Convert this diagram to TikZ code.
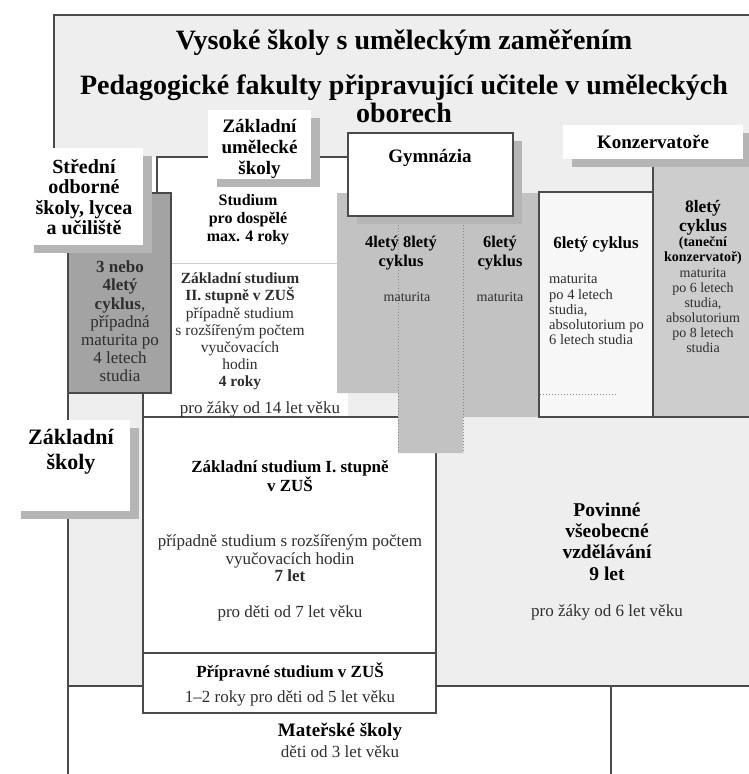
\documentclass[tikz,border=0pt]{standalone}
\usepackage{fontspec}
\setmainfont{Liberation Serif}
\usetikzlibrary{shadows}

\definecolor{framecol}{HTML}{EEEEEE}
\definecolor{darkcol}{HTML}{A3A3A3}
\definecolor{gymcol}{HTML}{C2C2C2}
\definecolor{konzcol}{HTML}{CDCDCD}
\definecolor{palecol}{HTML}{F7F7F7}
\definecolor{shadowcol}{HTML}{B5B5B5}
\definecolor{linecol}{HTML}{4A4A4A}
\definecolor{dotcol}{HTML}{8A8A8A}
\definecolor{textcol}{HTML}{2E2E2E}

\begin{document}
\begin{tikzpicture}[x=1pt, y=-1pt,
    edge/.style={draw=linecol, line width=1.1pt},
    dots/.style={draw=dotcol, line width=1pt, dotted},
    tag/.style={fill=white, inner sep=0pt,
      drop shadow={shadow xshift=9pt, shadow yshift=-8pt, fill=shadowcol, opacity=1}},
    head/.style 2 args={align=center, inner sep=0pt, font=\fontsize{#1}{#2}\selectfont\bfseries},
    body/.style 2 args={align=center, inner sep=0pt, text=textcol, font=\fontsize{#1}{#2}\selectfont},
  ]
  \useasboundingbox (0,0) rectangle (749,774);
  \clip (0,0) rectangle (749,774);

  % outer frame
  \fill[framecol] (54,15) -- (749,15) -- (749,686) -- (68,686) -- (68,252) -- (54,252) -- cycle;
  \draw[edge] (54,148) -- (54,15) -- (749,15);

  % ZUS
  \fill[white] (143,157) rectangle (348,417);
  \draw[edge] (157,193) -- (157,157) -- (348,157);
  \draw[gray!40, line width=1pt] (171,263) -- (337,263);
  \filldraw[fill=white, edge] (143,417) rectangle (436,653);
  \filldraw[fill=white, edge] (143,653) rectangle (436,713);
  \draw[edge] (143,393) -- (143,417);

  % lower lines
  \draw[edge] (68,393) -- (68,774);
  \draw[edge] (68,686) -- (143,686);
  \draw[edge] (436,686) -- (749,686);
  \draw[edge] (611,686) -- (611,774);

  % 3 nebo 4lety cyklus
  \filldraw[fill=darkcol, edge] (68,193) rectangle (171,393);

  % gymnazia
  \fill[gymcol] (337,193) -- (539,193) -- (539,417) -- (463,417) -- (463,453)
    -- (398,453) -- (398,393) -- (337,393) -- cycle;
  \draw[dots] (398,216) -- (398,453);
  \draw[dots] (463,216) -- (463,453);

  % 6lety cyklus, konzervatore
  \filldraw[fill=palecol, edge] (539,192) rectangle (653,417);
  \draw[dots] (540,394) -- (616,394);
  \fill[konzcol] (653,160) rectangle (749,417);
  \draw[edge] (653,160) -- (653,417) -- (749,417);

  % labels
  \node[tag, minimum width=118pt, minimum height=97pt] (stredni) at (84,196.5) {};
  \node[tag, minimum width=103pt, minimum height=69pt] (zus) at (259.5,144.5) {};
  \node[tag, edge, minimum width=165pt, minimum height=83pt] (gym) at (430.5,174.5) {};
  \node[tag, minimum width=180pt, minimum height=34pt] (konz) at (653,142) {};
  \node[tag, minimum width=118pt, minimum height=91pt] (zs) at (71,465.5) {};

  \node[head={28}{32}] (titleA) at (404,43) {Vysoké školy s uměleckým zaměřením};
  \node[head={28}{28}] (titleB) at (404,99) {Pedagogické fakulty připravující učitele v uměleckých\\oborech};

  \node[head={20}{20.5}] (stredniT) at (84,197) {Střední\\odborné\\školy, lycea\\a učiliště};
  \node[head={19}{21}] (zusT) at (259.5,149) {Základní\\umělecké\\školy};
  \node[head={19}{21}] (gymT) at (430,158) {Gymnázia};
  \node[head={19}{21}] (konzT) at (653,142) {Konzervatoře};
  \node[head={22}{25}] (zsT) at (71,452) {Základní\\školy};

  \node[head={16}{18}] (dospele) at (248,220) {Studium\\pro dospělé\\max. 4 roky};
  \node[body={15.5}{17.2}] (druhy) at (240,331.5) {\textbf{Základní studium}\\\textbf{II. stupně v ZUŠ}\\případně studium\\s rozšířeným počtem\\vyučovacích\\hodin\\\textbf{4 roky}};
  \node[body={17}{18}] (ctrnact) at (260,409) {pro žáky od 14 let věku};

  \node[body={17}{18.2}] (cyklus) at (120,321.5) {\textbf{3 nebo}\\\textbf{4letý}\\\textbf{cyklus},\\případná\\maturita po\\4 letech\\studia};

  \node[head={16.5}{19}] (ctyr) at (401,253.5) {4letý 8letý\\cyklus};
  \node[body={14}{15}] (matA) at (407,297) {maturita};
  \node[head={16.5}{19}] (sest) at (500,253.5) {6letý\\cyklus};
  \node[body={14}{15}] (matB) at (500,297) {maturita};

  \node[head={17}{19}] (sestC) at (596,244) {6letý cyklus};
  \node[body={14.5}{15.2}, align=left, anchor=west] (sestT) at (549,309.5) {maturita\\po 4 letech\\studia,\\absolutorium po\\6 letech studia};

  \node[head={17.5}{19}] (osm) at (703,217.5) {8letý\\cyklus};
  \node[head={14}{15}] (tanec) at (703,250.5) {(taneční\\konzervatoř)};
  \node[body={14}{15}] (osmT) at (703,310.5) {maturita\\po 6 letech\\studia,\\absolutorium\\po 8 letech\\studia};

  \node[head={17}{18}] (prvni) at (290,476) {Základní studium I. stupně\\v ZUŠ};
  \node[body={17}{17.5}] (prvniT) at (290,558.5) {případně studium s rozšířeným počtem\\vyučovacích hodin\\\textbf{7 let}};
  \node[body={17}{18}] (sedm) at (290,613) {pro děti od 7 let věku};

  \node[head={17}{18}] (prip) at (290,672) {Přípravné studium v ZUŠ};
  \node[body={17}{18}] (pripT) at (290,698) {1–2 roky pro děti od 5 let věku};

  \node[head={19.5}{21.3}] (povinne) at (607,541.5) {Povinné\\všeobecné\\vzdělávání\\9 let};
  \node[body={17}{18}] (sestLet) at (607,612) {pro žáky od 6 let věku};

  \node[head={19}{20}] (ms) at (340,732) {Mateřské školy};
  \node[body={17}{18}] (msT) at (340,752) {děti od 3 let věku};
\end{tikzpicture}
\end{document}
